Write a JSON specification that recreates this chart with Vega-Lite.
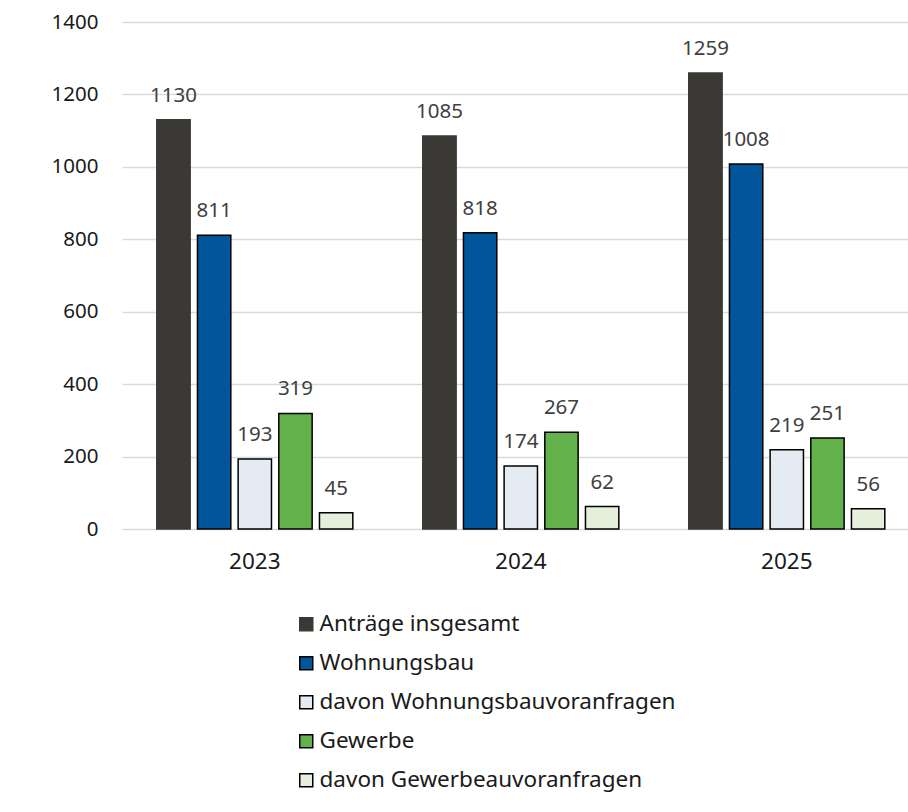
{
  "$schema": "https://vega.github.io/schema/vega-lite/v6.json",
  "width": 786,
  "height": 507,
  "autosize": {"type": "none"},
  "padding": {"left": 122, "top": 22, "right": 0, "bottom": 283},
  "background": "white",
  "config": {"view": {"stroke": null}, "font": "Noto Sans"},
  "data": {
    "values": [
      {"year": "2023", "series": "Anträge insgesamt", "value": 1130},
      {"year": "2023", "series": "Wohnungsbau", "value": 811},
      {"year": "2023", "series": "davon Wohnungsbauvoranfragen", "value": 193},
      {"year": "2023", "series": "Gewerbe", "value": 319},
      {"year": "2023", "series": "davon Gewerbeauvoranfragen", "value": 45},
      {"year": "2024", "series": "Anträge insgesamt", "value": 1085},
      {"year": "2024", "series": "Wohnungsbau", "value": 818},
      {"year": "2024", "series": "davon Wohnungsbauvoranfragen", "value": 174},
      {"year": "2024", "series": "Gewerbe", "value": 267},
      {"year": "2024", "series": "davon Gewerbeauvoranfragen", "value": 62},
      {"year": "2025", "series": "Anträge insgesamt", "value": 1259},
      {"year": "2025", "series": "Wohnungsbau", "value": 1008},
      {"year": "2025", "series": "davon Wohnungsbauvoranfragen", "value": 219},
      {"year": "2025", "series": "Gewerbe", "value": 251},
      {"year": "2025", "series": "davon Gewerbeauvoranfragen", "value": 56}
    ]
  },
  "encoding": {
    "x": {
      "field": "year",
      "type": "nominal",
      "scale": {"paddingInner": 0.263, "paddingOuter": 0.109, "align": 0.6},
      "axis": {"title": null, "labelAngle": 0, "labelFontSize": 22.5, "labelColor": "#1a1a1a", "ticks": false, "domain": false, "labelPadding": 21}
    },
    "xOffset": {
      "field": "series",
      "type": "nominal",
      "sort": ["Anträge insgesamt", "Wohnungsbau", "davon Wohnungsbauvoranfragen", "Gewerbe", "davon Gewerbeauvoranfragen"],
      "scale": {"paddingInner": 0.18, "paddingOuter": 0}
    },
    "y": {
      "field": "value",
      "type": "quantitative",
      "scale": {"domain": [0, 1400]},
      "axis": {"title": null, "format": "d", "values": [0, 200, 400, 600, 800, 1000, 1200, 1400], "grid": true, "gridColor": "#d9d9d9", "gridWidth": 1.5, "domain": false, "ticks": false, "labelFontSize": 20.5, "labelPadding": 24, "labelColor": "#1a1a1a"}
    }
  },
  "layer": [
    {
      "mark": {"type": "bar", "strokeWidth": 1.5},
      "encoding": {
        "color": {
          "field": "series",
          "type": "nominal",
          "scale": {
            "domain": ["Anträge insgesamt", "Wohnungsbau", "davon Wohnungsbauvoranfragen", "Gewerbe", "davon Gewerbeauvoranfragen"],
            "range": ["#3a3936", "#00559b", "#e4ebf3", "#63b14b", "#e5efdc"]
          },
          "legend": {
            "orient": "none", "legendX": 173, "legendY": 591, "direction": "vertical", "title": null,
            "symbolType": "square", "symbolSize": 169, "symbolStrokeWidth": 1.5,
            "labelFontSize": 22.5, "labelColor": "#1a1a1a", "rowPadding": 16, "labelOffset": 2, "labelLimit": 500
          }
        },
        "stroke": {
          "field": "series",
          "type": "nominal",
          "scale": {
            "domain": ["Anträge insgesamt", "Wohnungsbau", "davon Wohnungsbauvoranfragen", "Gewerbe", "davon Gewerbeauvoranfragen"],
            "range": ["#3a3936", "#000000", "#000000", "#000000", "#000000"]
          },
          "legend": {
            "orient": "none", "legendX": 173, "legendY": 591, "direction": "vertical", "title": null,
            "symbolType": "square", "symbolSize": 169, "symbolStrokeWidth": 1.5,
            "labelFontSize": 22.5, "labelColor": "#1a1a1a", "rowPadding": 16, "labelOffset": 2, "labelLimit": 500
          }
        }
      }
    },
    {
      "mark": {"type": "text", "baseline": "alphabetic", "dy": -18, "fontSize": 20.5, "color": "#404040"},
      "encoding": {"text": {"field": "value", "type": "quantitative"}}
    }
  ]
}
